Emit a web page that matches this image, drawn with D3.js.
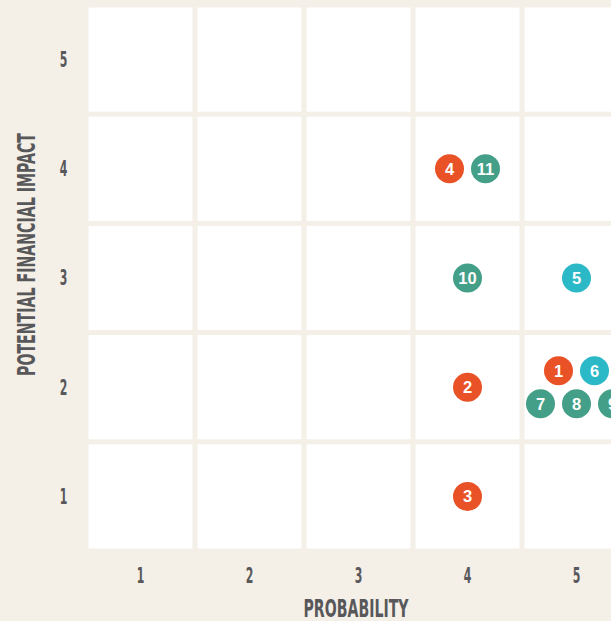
<!DOCTYPE html>
<html>
<head>
<meta charset="utf-8">
<script src="https://cdn.jsdelivr.net/npm/d3@7"></script>
<style>
  html, body { margin: 0; padding: 0; background: #f4efe7; }
  svg { display: block; }
  .axis-label, .tick text { font-family: "DejaVu Sans Condensed", "Liberation Sans Narrow", sans-serif; font-weight: bold; fill: #58585a; }
  .risk-label { font-family: "Liberation Sans", Arial, sans-serif; font-weight: bold; fill: #fff; }
</style>
</head>
<body>
<svg id="chart" width="611" height="621"></svg>
<script>
// Risk matrix: probability (x) vs potential financial impact (y)
const probabilityLevels = [1, 2, 3, 4, 5];
const impactLevels = [5, 4, 3, 2, 1];

const riskIds         = [1, 2, 3, 4, 5, 6, 7, 8, 9, 10, 11];
const riskProbability = [5, 4, 4, 4, 5, 5, 5, 5, 5, 4, 4];
const riskImpact      = [2, 2, 1, 4, 3, 2, 2, 2, 2, 3, 4];
const riskGroup       = ["A", "A", "A", "A", "B", "B", "C", "C", "C", "C", "C"];

const groupNames  = ["A", "B", "C"];
const groupColors = ["#e95126", "#2bb8c7", "#449f88"];

const xTitle = "PROBABILITY";
const yTitle = "POTENTIAL FINANCIAL IMPACT";

const svg = d3.select("#chart");

const x = d3.scaleBand()
  .domain(probabilityLevels)
  .range([86, 631])
  .paddingInner(0.046)
  .paddingOuter(0.023);

const y = d3.scaleBand()
  .domain(impactLevels)
  .range([5, 551])
  .paddingInner(0.046)
  .paddingOuter(0.023);

const color = d3.scaleOrdinal().domain(groupNames).range(groupColors);

// white cells
const cells = d3.cross(probabilityLevels, impactLevels);
svg.append("g").selectAll("rect")
  .data(cells)
  .join("rect")
  .attr("x", d => x(d[0]))
  .attr("y", d => y(d[1]))
  .attr("width", x.bandwidth())
  .attr("height", y.bandwidth())
  .attr("fill", "#ffffff");

// axes (labels only), set in a narrow condensed face
const digitWidth = 7.6;
const xAxis = svg.append("g")
  .attr("transform", `translate(0,${y.range()[1]})`)
  .call(d3.axisBottom(x).tickSize(0).tickPadding(17));
xAxis.select(".domain").remove();
xAxis.selectAll(".tick text")
  .attr("font-size", 20.5)
  .attr("textLength", digitWidth)
  .attr("lengthAdjust", "spacingAndGlyphs");

const yAxis = svg.append("g")
  .attr("transform", `translate(${x.range()[0]},0)`)
  .call(d3.axisLeft(y).tickSize(0));
yAxis.select(".domain").remove();
yAxis.selectAll(".tick text")
  .attr("font-size", 20.5)
  .attr("text-anchor", "middle")
  .attr("x", -22.5)
  .attr("dy", "0.36em")
  .attr("textLength", digitWidth)
  .attr("lengthAdjust", "spacingAndGlyphs");

// axis titles
svg.append("text")
  .attr("class", "axis-label")
  .attr("transform", "translate(356,617)")
  .attr("text-anchor", "middle")
  .attr("font-size", 24.5)
  .attr("textLength", 105)
  .attr("lengthAdjust", "spacingAndGlyphs")
  .text(xTitle);

svg.append("text")
  .attr("class", "axis-label")
  .attr("transform", "translate(35,254.5) rotate(-90)")
  .attr("text-anchor", "middle")
  .attr("font-size", 24.5)
  .attr("textLength", 243)
  .attr("lengthAdjust", "spacingAndGlyphs")
  .text(yTitle);

// risks, grouped per cell and laid out in rows of up to three
const risks = riskIds.map((id, i) => ({
  id, p: riskProbability[i], impact: riskImpact[i], group: riskGroup[i]
}));
const byCell = d3.group(risks, d => d.p + "-" + d.impact);
const spacingX = 36, spacingY = 33, perRow = 3;
byCell.forEach(list => {
  list.sort((a, b) => a.id - b.id);
  const n = list.length;
  const rows = Math.ceil(n / perRow);
  const firstRow = n - perRow * (rows - 1);
  let idx = 0;
  for (let r = 0; r < rows; r++) {
    const count = r === 0 ? firstRow : perRow;
    for (let c = 0; c < count; c++, idx++) {
      list[idx].dx = (c - (count - 1) / 2) * spacingX;
      list[idx].dy = (r - (rows - 1) / 2) * spacingY;
    }
  }
});

const marks = svg.append("g").selectAll("g")
  .data(risks)
  .join("g")
  .attr("transform", d =>
    `translate(${x(d.p) + x.bandwidth() / 2 + d.dx},${y(d.impact) + y.bandwidth() / 2 + d.dy})`);

marks.append("circle")
  .attr("r", 14.5)
  .attr("fill", d => color(d.group));

marks.append("text")
  .attr("class", "risk-label")
  .attr("text-anchor", "middle")
  .attr("dy", "0.36em")
  .attr("font-size", 16.5)
  .text(d => d.id);
</script>
</body>
</html>
